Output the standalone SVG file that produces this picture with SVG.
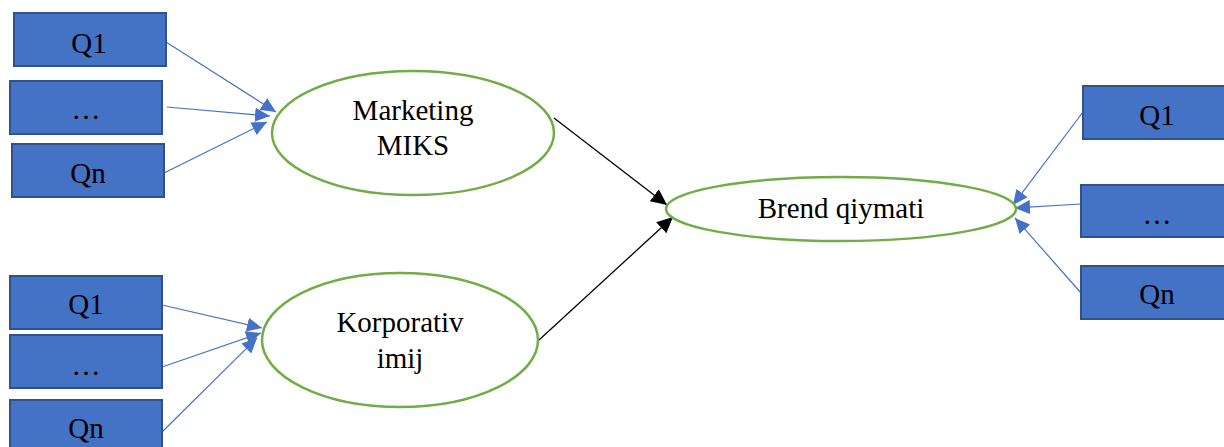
<svg xmlns="http://www.w3.org/2000/svg" width="1224" height="447" viewBox="0 0 1224 447">
  <style>
    .box { fill: #4472C4; stroke: #2F528F; stroke-width: 2; }
    .oval { fill: #FFFFFF; stroke: #70AD47; stroke-width: 2.5; }
    .lbl { font-family: 'Liberation Serif', 'Times New Roman', 'DejaVu Serif', serif; font-size: 29px; fill: #000000; text-anchor: middle; }
    .blink { stroke: #4472C4; stroke-width: 1.2; fill: none; marker-end: url(#headBlue); }
    .klink { stroke: #000000; stroke-width: 1.3; fill: none; marker-end: url(#headBlack); }
  </style>
  <defs>
    <marker id="headBlue" markerUnits="userSpaceOnUse" markerWidth="16" markerHeight="14" refX="15" refY="7" orient="auto">
      <path d="M0,0 L15,7 L0,14 z" fill="#4472C4"/>
    </marker>
    <marker id="headBlack" markerUnits="userSpaceOnUse" markerWidth="17" markerHeight="15" refX="16" refY="7.5" orient="auto">
      <path d="M0,0 L16,7.5 L0,15 z" fill="#000000"/>
    </marker>
  </defs>

  <rect width="1224" height="447" fill="#FFFFFF"/>

  <!-- connectors -->
  <g id="connectors">
    <line class="blink" x1="166" y1="42" x2="276" y2="112"/>
    <line class="blink" x1="167" y1="107" x2="270" y2="116"/>
    <line class="blink" x1="164" y1="173" x2="267" y2="122"/>

    <line class="blink" x1="162" y1="305" x2="262" y2="328"/>
    <line class="blink" x1="162" y1="367" x2="261" y2="333"/>
    <line class="blink" x1="162" y1="432" x2="257" y2="338"/>

    <line class="blink" x1="1083" y1="112" x2="1013" y2="205"/>
    <line class="blink" x1="1081" y1="204" x2="1015" y2="208"/>
    <line class="blink" x1="1081" y1="293" x2="1015" y2="218"/>

    <line class="klink" x1="554" y1="118" x2="667" y2="205"/>
    <line class="klink" x1="539" y1="340" x2="673" y2="217"/>
  </g>

  <!-- indicator boxes, upper left -->
  <g id="mm-q1"><rect class="box" x="14" y="13" width="152" height="53"/><text class="lbl" x="89" y="53">Q1</text></g>
  <g id="mm-etc"><rect class="box" x="10" y="81" width="152" height="53"/><text class="lbl" x="86" y="119">…</text></g>
  <g id="mm-qn"><rect class="box" x="12" y="144" width="152" height="53"/><text class="lbl" x="88" y="183">Qn</text></g>

  <!-- indicator boxes, lower left -->
  <g id="ki-q1"><rect class="box" x="10" y="276" width="152" height="53"/><text class="lbl" x="86" y="314">Q1</text></g>
  <g id="ki-etc"><rect class="box" x="10" y="335" width="152" height="53"/><text class="lbl" x="86" y="375">…</text></g>
  <g id="ki-qn"><rect class="box" x="10" y="400" width="152" height="60"/><text class="lbl" x="86" y="438">Qn</text></g>

  <!-- indicator boxes, right -->
  <g id="bq-q1"><rect class="box" x="1083" y="86" width="152" height="53"/><text class="lbl" x="1157" y="125">Q1</text></g>
  <g id="bq-etc"><rect class="box" x="1081" y="185" width="152" height="52"/><text class="lbl" x="1157" y="224">…</text></g>
  <g id="bq-qn"><rect class="box" x="1081" y="266" width="152" height="53"/><text class="lbl" x="1157" y="304">Qn</text></g>

  <!-- latent constructs -->
  <g id="marketing-miks">
    <ellipse class="oval" cx="413" cy="133" rx="141" ry="62"/>
    <text class="lbl" x="413" y="120">Marketing</text>
    <text class="lbl" x="413" y="155">MIKS</text>
  </g>
  <g id="korporativ-imij">
    <ellipse class="oval" cx="400" cy="340" rx="138" ry="67"/>
    <text class="lbl" x="400" y="332">Korporativ</text>
    <text class="lbl" x="400" y="368">imij</text>
  </g>
  <g id="brend-qiymati">
    <ellipse class="oval" cx="841" cy="209" rx="175" ry="32"/>
    <text class="lbl" x="841" y="218">Brend qiymati</text>
  </g>
</svg>
